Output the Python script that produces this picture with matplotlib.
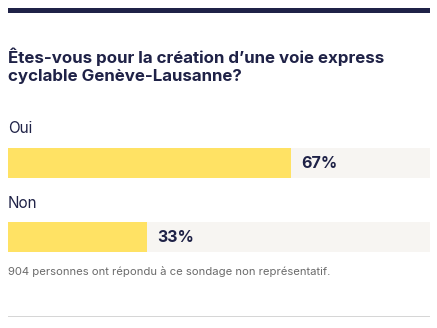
import matplotlib.pyplot as plt
from matplotlib.patches import Rectangle

W, H = 437, 328

TITLE = 'Êtes-vous pour la création d’une voie express\ncyclable Genève-Lausanne?'
answers = ['Oui', 'Non']
shares = [67, 33]
footnote = '904 personnes ont répondu à ce sondage non représentatif.'

NAVY = '#1f2247'
YELLOW = '#ffe264'
TRACK = '#f7f5f2'
GREY = '#6b6b6b'

plt.rcParams['font.family'] = ['Inter', 'DejaVu Sans']

fig = plt.figure(figsize=(W / 100, H / 100), dpi=100)
fig.patch.set_facecolor('white')


def px(x, y):
    # pixel coordinates from the top-left corner -> figure fraction
    return x / W, 1 - y / H


# thick rule on top
fig.patches.append(Rectangle(px(8, 13), 422 / W, 5 / H, transform=fig.transFigure,
                             color=NAVY, lw=0))

fig.text(*px(8, 47), TITLE, fontsize=12.2, fontweight='bold', color=NAVY,
         va='top', ha='left', linespacing=1.3)

left, right = 8, 430
label_y = [121, 196]
bar_top = [148, 222]
bar_h = 30

for name, val, ly, by in zip(answers, shares, label_y, bar_top):
    fig.text(*px(left, ly), name, fontsize=11, color=NAVY, va='top', ha='left')
    x0, y0 = px(left, by + bar_h)
    ax = fig.add_axes([x0, y0, (right - left) / W, bar_h / H])
    ax.barh([0], [100], height=1, color=TRACK, lw=0)
    ax.barh([0], [val], height=1, color=YELLOW, lw=0)
    ax.text(val + 2.4, 0, f'{val}%', fontsize=11.5, fontweight='bold', color=NAVY,
            va='center', ha='left')
    ax.set_xlim(0, 100)
    ax.set_ylim(-0.5, 0.5)
    ax.axis('off')

fig.text(*px(8, 266), footnote, fontsize=8.1, color=GREY, va='top', ha='left')

# thin rule at the bottom
fig.patches.append(Rectangle(px(8, 317), 422 / W, 1 / H, transform=fig.transFigure,
                             color='#d6d6d6', lw=0))

fig.savefig('out.png', dpi=100)
